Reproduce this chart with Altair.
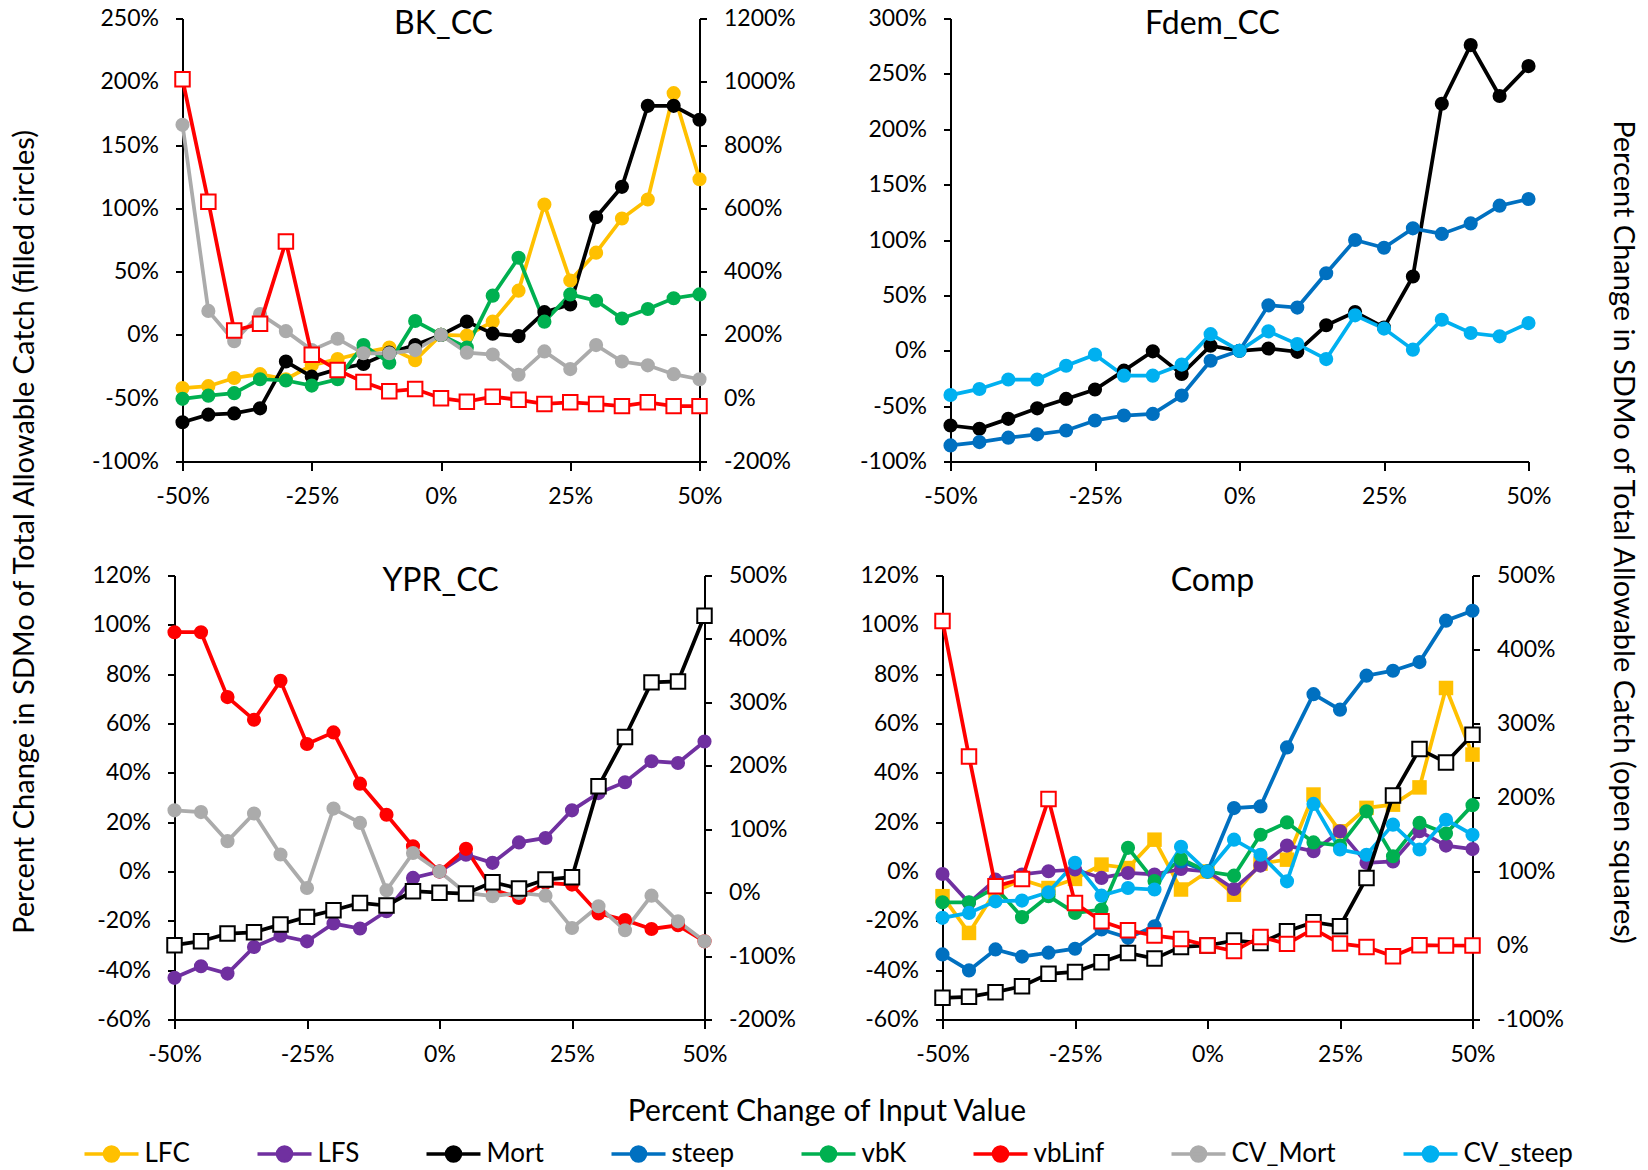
import altair as alt
import pandas as pd

X = [-50, -45, -40, -35, -30, -25, -20, -15, -10, -5, 0, 5, 10, 15, 20, 25, 30, 35, 40, 45, 50]

SERIES = ["LFC", "LFS", "Mort", "steep", "vbK", "vbLinf", "CV_Mort", "CV_steep"]
COLORS = ["#FFC000", "#7030A0", "#000000", "#0070C0", "#00B050", "#FF0000", "#ABABAB", "#00B0F0"]

# ---- BK_CC ----
bk_LFC = [-42, -40.5, -34, -31, -35, -24, -19, -14, -10, -20, 0, -0.5, 10.5, 35, 103, 43, 65, 92, 107, 191, 123]
bk_Mort = [-69, -63, -62, -58, -21, -33, -27, -23, -14, -8, 0, 10.5, 1, -1, 18, 24, 93, 117, 181, 181, 170]
bk_vbK = [-50.5, -48, -46, -35, -36, -40, -35, -8, -22, 11, 0, -10, 31, 61, 10.5, 32, 27, 13, 20.5, 29, 32]
bk_CVMort = [166, 19, -5, 16.5, 3, -12, -3, -14.5, -14.5, -12, 0, -14, -15.5, -31.5, -13, -27, -8, -21, -24, -31, -35]
bk_vbLinf_sq = [1008, 621, 214, 235, 495, 137, 89, 51, 22, 29, 0, -11, 5, -5, -18, -13, -18, -25, -13, -25, -25]

# ---- Fdem_CC ----
fd_Mort = [-67.5, -70.5, -61.5, -52, -43.5, -35, -18, -0.5, -21, 4.5, 0, 2, -1, 23, 35, 21, 67, 223, 276, 230, 257]
fd_steep = [-85.5, -82.5, -78.5, -75.5, -72, -63, -58.5, -57, -40.5, -9, 0, 41, 39, 70, 100, 93, 110.5, 105.5, 115, 131, 137]
fd_CVsteep = [-40, -34.5, -26, -26, -13.5, -3.5, -22.5, -22.5, -12.5, 15, 0, 17.5, 6, -7.5, 32, 20, 1, 28, 16, 13, 25]

# ---- YPR_CC ----
ypr_LFS = [-43.1, -38.4, -41.4, -30.6, -26, -28.3, -21.1, -23.1, -16.1, -2.6, 0, 6.8, 3.5, 11.8, 13.6, 24.8, 31.8, 36.2, 44.7, 44, 52.7]
ypr_vbLinf = [97, 97, 70.7, 61.5, 77.3, 51.7, 56.4, 35.6, 23, 10.2, 0, 9.2, -7.3, -10.7, -4.6, -5.3, -17, -19.7, -23.3, -21.8, -28.3]
ypr_CVMort = [24.8, 24.1, 12.3, 23.5, 6.9, -6.7, 25.5, 19.7, -7.6, 7.5, 0, -8.7, -10, -8.7, -9.8, -22.9, -14.1, -23.8, -9.8, -20.2, -28.3]
ypr_Mort_sq = [-82.9, -76.6, -64.6, -62.5, -50.3, -38.2, -27.7, -16.2, -20.3, 2.2, 0, -1.5, 16.4, 6.4, 20.6, 24.3, 167.6, 245.4, 331.5, 333, 436.5]

# ---- Comp ----
cp_LFC = [-10, -24.9, -8, -3.3, -6.7, -3, 2.8, 1.4, 12.9, -7.3, 0, -9.4, 3.2, 4.8, 31.2, 16.3, 25.8, 27.1, 34.1, 74.4, 47.4]
cp_LFS = [-1, -12.7, -3.3, -1.2, 0.1, 0.8, -2.6, -0.6, -1.2, 1, 0, -7.1, 2.4, 10.5, 8.2, 16.3, 3.5, 4.1, 16.3, 10.5, 9.1]
cp_steep = [-33.6, -40.1, -31.6, -34.5, -32.9, -31.3, -23.5, -26.9, -22.2, 4.1, 0, 25.7, 26.4, 50.3, 71.9, 65.6, 79.4, 81.4, 84.9, 101.7, 105.7]
cp_vbK = [-12.5, -12.5, -6.4, -18.5, -10, -16.8, -15.4, 9.6, -3.9, 5.1, 0, -1.7, 14.9, 19.9, 11.8, 10.5, 24.4, 6.2, 19.7, 15.4, 26.9]
cp_CVsteep = [-18.8, -16.8, -12.1, -11.8, -8.4, 3.5, -9.8, -6.7, -7.3, 10, 0, 12.9, 6.8, -4, 27.4, 8.9, 6.8, 19, 8.9, 21, 14.9]
cp_Mort_sq = [-70.7, -69.4, -63.1, -55, -38.3, -35.7, -22.6, -10, -17.7, -1.9, 0, 6.7, 3.5, 19.3, 31.4, 26, 91.3, 202.8, 265.4, 247.4, 284.8]
cp_vbLinf_sq = [438.6, 255.5, 80, 89.9, 197.9, 57.5, 32.8, 20.6, 13.4, 8.9, 0, -7.6, 11.6, 2.2, 22.4, 2.6, -1.9, -14.5, 0.4, 0, 0]

X_TICKS = [-50, -25, 0, 25, 50]
BK_LEFT_TICKS = [-100, -50, 0, 50, 100, 150, 200, 250]
BK_RIGHT_TICKS = [-200, 0, 200, 400, 600, 800, 1000, 1200]
FD_LEFT_TICKS = [-100, -50, 0, 50, 100, 150, 200, 250, 300]
YC_LEFT_TICKS = [-60, -40, -20, 0, 20, 40, 60, 80, 100, 120]
YPR_RIGHT_TICKS = [-200, -100, 0, 100, 200, 300, 400, 500]
CP_RIGHT_TICKS = [-100, 0, 100, 200, 300, 400, 500]

LEFT_TITLE = "Percent Change in SDMo of Total Allowable Catch (filled circles)"
RIGHT_TITLE = "Percent Change in SDMo of Total Allowable Catch (open squares)"
X_TITLE = "Percent Change of Input Value"

FONT = "Lato"
PCT = "datum.value + '%'"
LEG_PATH = "M -1 0 L 1 0 M 0.26 0 A 0.26 0.26 0 1 1 -0.26 0 A 0.26 0.26 0 1 1 0.26 0 Z"

legend = alt.Legend(
    orient="none", legendX=-92, legendY=1106, direction="horizontal", columns=8,
    title=None, symbolType=LEG_PATH, symbolSize=2916, symbolStrokeWidth=3.5,
    labelFont=FONT, labelFontSize=26, labelColor="black", labelOffset=4,
    columnPadding=60, padding=0, labelLimit=300, symbolOpacity=1,
)
cscale = alt.Scale(domain=SERIES, range=COLORS)
color = alt.Color("series:N", scale=cscale, legend=None)


def long_df(d):
    rows = []
    for name, vals in d.items():
        for xv, v in zip(X, vals):
            rows.append({"x": xv, "value": v, "series": name})
    return pd.DataFrame(rows)


def x_enc(x0, x1, title=None, tx=0, ty=0):
    if title:
        kw = dict(title=title, titleX=tx, titleY=ty, titleAlign="center",
                  titleBaseline="middle", titleAngle=0, titleFontSize=30)
    else:
        kw = dict(title=None)
    return alt.X("x:Q", scale=alt.Scale(domain=[-50, 50], range=[x0, x1], nice=False, zero=False),
                 axis=alt.Axis(values=X_TICKS, labelExpr=PCT, tickSize=9, labelFlush=False,
                               labelPadding=15, **kw))


def y_axis(ticks, orient, title=None, tx=0, ty=0, angle=-90, offset=0):
    kw = dict(title=None)
    if title:
        kw = dict(title=title, titleX=tx, titleY=ty, titleAngle=angle,
                  titleAlign="center", titleBaseline="middle", titleFontSize=29)
    return alt.Axis(values=ticks, labelExpr=PCT, orient=orient, tickSize=7,
                    labelPadding=17, offset=offset, labelFlush=False, **kw)


def yscale(ticks):
    return alt.Scale(domain=[ticks[0], ticks[-1]], nice=False, zero=False)


def circles(d, ticks, ax, xe):
    return alt.Chart(long_df(d)).mark_line(
        strokeWidth=3.75, point=alt.OverlayMarkDef(filled=True, size=200, opacity=1)
    ).encode(x=xe, y=alt.Y("value:Q", scale=yscale(ticks), axis=ax), color=color)


def squares(d, ticks, ax, xe, filled=False):
    if filled:
        pt = alt.OverlayMarkDef(shape="square", filled=True, size=210, opacity=1)
    else:
        pt = alt.OverlayMarkDef(shape="square", filled=False, fill="white", size=210,
                                strokeWidth=2, opacity=1)
    return alt.Chart(long_df(d)).mark_line(strokeWidth=3.75, point=pt).encode(
        x=xe, y=alt.Y("value:Q", scale=yscale(ticks), axis=ax), color=color)


def ptitle(text, cx):
    return alt.Chart(pd.DataFrame({"t": [text]})).mark_text(
        font=FONT, fontSize=32, baseline="alphabetic", align="center", color="black"
    ).encode(text="t:N", x=alt.value(cx), y=alt.value(15))


# legend-only layer (zero-size points)
legend_layer = alt.Chart(pd.DataFrame({"series": SERIES})).mark_point(
    filled=True, size=0
).encode(
    x=alt.value(8), y=alt.value(443),
    fill=alt.Fill("series:N", scale=cscale, legend=legend),
    stroke=alt.Stroke("series:N", scale=cscale, legend=legend),
)

# Panel 1: BK_CC (cell starts 8px left of its plot)
xe1 = x_enc(8, 525)
left1 = alt.layer(
    legend_layer,
    circles({"LFC": bk_LFC, "Mort": bk_Mort, "vbK": bk_vbK, "CV_Mort": bk_CVMort},
            BK_LEFT_TICKS, y_axis(BK_LEFT_TICKS, "left", offset=-8), xe1),
    ptitle("BK_CC", 269),
)
p1 = alt.layer(
    left1,
    squares({"vbLinf": bk_vbLinf_sq}, BK_RIGHT_TICKS, y_axis(BK_RIGHT_TICKS, "right"), xe1),
).resolve_scale(y="independent").properties(width=525, height=443)

# Panel 2: Fdem_CC
xe2 = x_enc(8, 586)
p2 = alt.layer(
    circles({"Mort": fd_Mort, "steep": fd_steep, "CV_steep": fd_CVsteep},
            FD_LEFT_TICKS, y_axis(FD_LEFT_TICKS, "left", offset=-8), xe2),
    ptitle("Fdem_CC", 270),
).properties(width=586, height=443)

# Panel 3: YPR_CC
xe3 = x_enc(0, 530, X_TITLE, 652, 92)
left3 = alt.layer(
    circles({"LFS": ypr_LFS, "vbLinf": ypr_vbLinf, "CV_Mort": ypr_CVMort},
            YC_LEFT_TICKS, y_axis(YC_LEFT_TICKS, "left", LEFT_TITLE, -150, -44, -90), xe3),
    ptitle("YPR_CC", 266),
)
p3 = alt.layer(
    left3,
    squares({"Mort": ypr_Mort_sq}, YPR_RIGHT_TICKS, y_axis(YPR_RIGHT_TICKS, "right"), xe3),
).resolve_scale(y="independent").properties(width=530, height=444)

# Panel 4: Comp
xe4 = x_enc(0, 530)
left4 = alt.layer(
    squares({"LFC": cp_LFC}, YC_LEFT_TICKS, y_axis(YC_LEFT_TICKS, "left"), xe4, filled=True),
    circles({"LFS": cp_LFS, "steep": cp_steep, "vbK": cp_vbK, "CV_steep": cp_CVsteep},
            YC_LEFT_TICKS, y_axis(YC_LEFT_TICKS, "left"), xe4),
    ptitle("Comp", 270),
)
right4 = squares({"Mort": cp_Mort_sq, "vbLinf": cp_vbLinf_sq}, CP_RIGHT_TICKS,
                 y_axis(CP_RIGHT_TICKS, "right", RIGHT_TITLE, 150, -44, 90), xe4)
p4 = alt.layer(left4, right4).resolve_scale(y="independent").properties(width=530, height=444)

chart = alt.concat(
    p1, p2, p3, p4, columns=2, bounds="flush",
    spacing={"row": 114, "column": 238},
).resolve_scale(x="independent").properties(
    padding={"left": 9.5, "top": 7.5, "right": 8, "bottom": 44},
    background="white",
).configure_view(stroke=None).configure_axis(
    grid=False, labelFont=FONT, labelFontSize=23, labelColor="black",
    domainColor="black", tickColor="black", domainWidth=2, tickWidth=2,
    titleFont=FONT, titleFontSize=29, titleFontWeight="normal", titleColor="black",
)

chart.save("out.html", embed_options={"renderer": "svg", "actions": False})
